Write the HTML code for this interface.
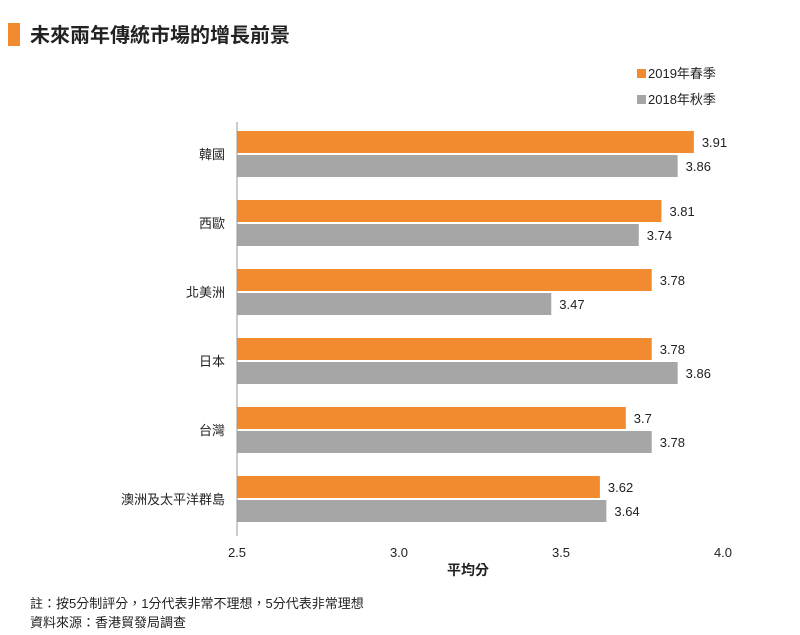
<!DOCTYPE html>
<html><head><meta charset="utf-8"><style>
body{margin:0;background:#fff;font-family:"Liberation Sans","Noto Sans CJK TC",sans-serif;}
#wrap{position:relative;width:800px;height:635px;overflow:hidden;}
</style></head><body>
<div id="wrap">
<svg id="chart" width="800" height="635" xmlns="http://www.w3.org/2000/svg">
<rect x="8" y="23" width="12" height="23" fill="#f28a30"/>
<text x="30" y="42" font-size="20" font-weight="bold" fill="#222" font-family="Liberation Sans, Noto Sans CJK TC, sans-serif">未來兩年傳統市場的增長前景</text>
<g>
<rect x="637" y="69" width="9" height="9" fill="#f28a30"/>
<text x="648" y="78" font-size="13" fill="#222">2019年春季</text>
<rect x="637" y="95" width="9" height="9" fill="#a6a6a6"/>
<text x="648" y="104" font-size="13" fill="#222">2018年秋季</text>
</g>
<g id="plot"></g>
<text x="468" y="575" font-size="14" font-weight="bold" text-anchor="middle" fill="#222">平均分</text>
<text x="30" y="608" font-size="13" fill="#222">註：按5分制評分，1分代表非常不理想，5分代表非常理想</text>
<text x="30" y="627" font-size="13" fill="#222">資料來源：香港貿發局調查</text>
</svg>
</div>
<script>
const categories=["韓國","西歐","北美洲","日本","台灣","澳洲及太平洋群島"];
const series2019=[3.91,3.81,3.78,3.78,3.7,3.62];
const series2018=[3.86,3.74,3.47,3.86,3.78,3.64];
const xTicks=[2.5,3.0,3.5,4.0];
const xTickLabels=["2.5","3.0","3.5","4.0"];
const NS="http://www.w3.org/2000/svg";
const g=document.getElementById('plot');
const x0=237,x1=723,xmin=2.5,xmax=4.0;
function xs(v){return x0+(v-xmin)/(xmax-xmin)*(x1-x0);}
const top0=122,groupH=69,barH=22;
function gy(i){return top0+i*groupH;}
function mk(t,a){const e=document.createElementNS(NS,t);for(const k in a)e.setAttribute(k,a[k]);g.appendChild(e);return e;}
categories.forEach((c,i)=>{
 const y=gy(i)+9;
 let r=mk('rect',{x:x0,y:y,width:xs(series2019[i])-x0,height:barH,fill:'#f28a30'});
 
 
 let t=mk('text',{x:xs(series2019[i])+8,y:y+barH/2+5,'font-size':13,fill:'#222'});t.textContent=String(series2019[i]);
 
 
 const y2=y+barH+2;
 r=mk('rect',{x:x0,y:y2,width:xs(series2018[i])-x0,height:barH,fill:'#a6a6a6'});
 
 
 t=mk('text',{x:xs(series2018[i])+8,y:y2+barH/2+5,'font-size':13,fill:'#222'});t.textContent=String(series2018[i]);
 
 
 t=mk('text',{x:x0-12,y:y+barH+6,'font-size':13,fill:'#222','text-anchor':'end'});t.textContent=c;
 
 
});
let ax=mk('line',{x1:x0,y1:top0,x2:x0,y2:top0+categories.length*groupH,stroke:'#999','stroke-width':1});


xTicks.forEach((v,i)=>{
 const t=mk('text',{x:xs(v),y:557,'font-size':13,fill:'#222','text-anchor':'middle'});t.textContent=xTickLabels[i];
 
 
});
</script>
</body></html>
